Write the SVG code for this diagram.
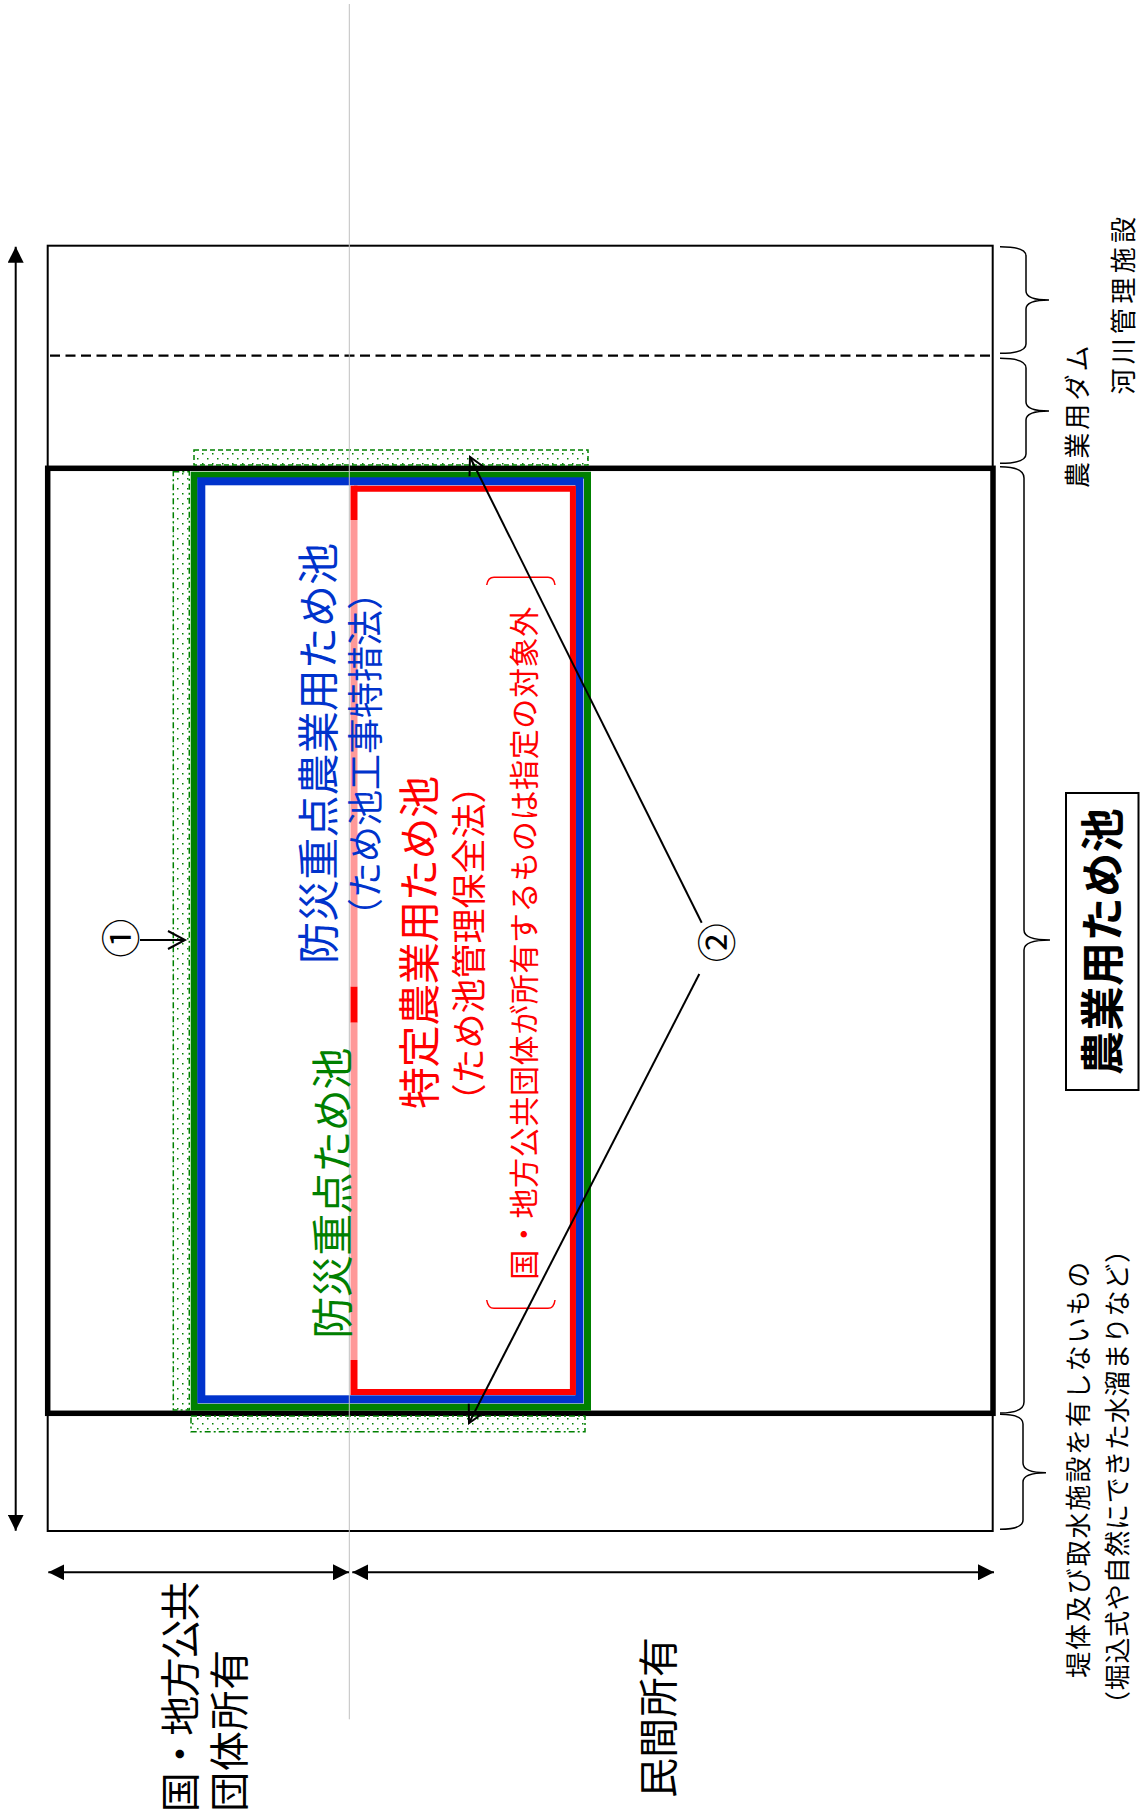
<svg xmlns="http://www.w3.org/2000/svg" width="1140" height="1817" viewBox="0 0 1140 1817">
<style>
.t{font-family:"Noto Sans CJK JP","Noto Sans CJK SC",sans-serif;}
.thin{fill:none;stroke:#000;stroke-width:2;}
.brace{fill:none;stroke:#000;stroke-width:1.5;}
.dotbox{fill:url(#dots);stroke:#008000;stroke-width:1.5;}
.arr{fill:none;stroke:#000;stroke-width:2;}
</style>
<defs>
<pattern id="dots" patternUnits="userSpaceOnUse" width="10" height="10">
<rect width="10" height="10" fill="#fff"/>
<rect x="2" y="3" width="1.5" height="1.5" fill="#008000"/>
<rect x="7" y="8" width="1.5" height="1.5" fill="#008000"/>
</pattern>
<marker id="fa" markerUnits="userSpaceOnUse" markerWidth="16" markerHeight="16" viewBox="0 0 16 16" refX="16" refY="8" orient="auto-start-reverse">
<path d="M0,0 L16,8 L0,16 z" fill="#000"/>
</marker>
<marker id="oa" markerUnits="userSpaceOnUse" markerWidth="26" markerHeight="26" viewBox="-22 -13 26 26" refX="0" refY="0" orient="auto" overflow="visible">
<path d="M-17,-9 L0,0 L-17,9" fill="none" stroke="#000" stroke-width="2"/>
</marker>
</defs>
<rect width="1140" height="1817" fill="#fff"/>

<g id="frame">
<rect class="thin" x="47.7" y="245.7" width="945" height="1285.3"/>
<line x1="50" y1="355.7" x2="992" y2="355.7" stroke="#000" stroke-width="2.2" stroke-dasharray="10 5.5"/>
<rect x="47.7" y="468.3" width="945.3" height="945" fill="none" stroke="#000" stroke-width="5.5"/>
</g>

<g id="area-1">
<rect class="dotbox" x="194" y="450" width="394" height="15" stroke-dasharray="5 3"/>
<rect class="dotbox" x="173.3" y="471.7" width="16" height="938.3" stroke-dasharray="6 3 2 3"/>
<rect class="dotbox" x="191" y="1416" width="394" height="15.7" stroke-dasharray="6 3 2 3"/>
</g>

<g id="green-pond">
<rect x="194.2" y="475.2" width="393.3" height="932" fill="none" stroke="#008000" stroke-width="7"/>
</g>
<g id="blue-pond">
<rect x="201.3" y="481.3" width="378.1" height="918" fill="none" stroke="#0033cc" stroke-width="8"/>
</g>
<g id="red-pond">
<path d="M354,488.7 H572.9 V1392 H354" fill="none" stroke="#ff0000" stroke-width="6"/>
<line x1="354" y1="485.7" x2="354" y2="520" stroke="#ff0000" stroke-width="7"/>
<line x1="354" y1="520" x2="354" y2="986.7" stroke="#ff9999" stroke-width="7"/>
<line x1="354" y1="986.7" x2="354" y2="1022.7" stroke="#ff0000" stroke-width="7"/>
<line x1="354" y1="1022.7" x2="354" y2="1360" stroke="#ff9999" stroke-width="7"/>
<line x1="354" y1="1360" x2="354" y2="1395" stroke="#ff0000" stroke-width="7"/>
</g>

<line id="divider" x1="349.3" y1="4" x2="349.3" y2="1719.3" stroke="#c0c0c0" stroke-width="1"/>

<g id="label-blue">
<text class="t" transform="translate(315,753.4) rotate(-90)" text-anchor="middle" dominant-baseline="central" font-size="42" fill="#0033cc" textLength="421" lengthAdjust="spacing">防災重点農業用ため池</text>
<text class="t" transform="translate(362.5,754) rotate(-90)" text-anchor="middle" dominant-baseline="central" font-size="36" fill="#0033cc">（ため池工事特措法）</text>
</g>
<g id="label-red">
<text class="t" transform="translate(416.7,942.5) rotate(-90)" text-anchor="middle" dominant-baseline="central" font-size="42" fill="#ff0000" textLength="333" lengthAdjust="spacing">特定農業用ため池</text>
<text class="t" transform="translate(466,943.5) rotate(-90)" text-anchor="middle" dominant-baseline="central" font-size="35" fill="#ff0000">（ため池管理保全法）</text>
<text class="t" transform="translate(521.7,943.3) rotate(-90)" text-anchor="middle" dominant-baseline="central" font-size="30" fill="#ff0000" textLength="673" lengthAdjust="spacing">国・地方公共団体が所有するものは指定の対象外</text>
<path d="M486.7,585 Q488,577.3 494,577.3 H548 Q554,577.3 555,585" fill="none" stroke="#ff0000" stroke-width="1.5"/>
<path d="M486.7,1300 Q488,1308.3 494,1308.3 H548 Q554,1308.3 555,1300" fill="none" stroke="#ff0000" stroke-width="1.5"/>
</g>
<g id="label-green">
<text class="t" transform="translate(329,1193.3) rotate(-90)" text-anchor="middle" dominant-baseline="central" font-size="42" fill="#008000" textLength="291" lengthAdjust="spacing">防災重点ため池</text>
</g>

<g id="marker-1">
<text class="t" transform="translate(118.3,938.3) rotate(-90)" text-anchor="middle" dominant-baseline="central" font-size="39" fill="#000">①</text>
</g>
<g id="marker-2">
<text class="t" transform="translate(714,942.7) rotate(-90)" text-anchor="middle" dominant-baseline="central" font-size="39" fill="#000">②</text>
</g>

<g id="right-labels">
<text class="t" transform="translate(1121,305.8) rotate(-90)" text-anchor="middle" dominant-baseline="central" font-size="26" fill="#000" textLength="177.6" lengthAdjust="spacing">河川管理施設</text>
<text class="t" transform="translate(1075.3,416.7) rotate(-90)" text-anchor="middle" dominant-baseline="central" font-size="26" fill="#000" textLength="142.6" lengthAdjust="spacing">農業用ダム</text>
<text class="t" transform="translate(1076.7,1469.8) rotate(-90)" text-anchor="middle" dominant-baseline="central" font-size="26" fill="#000" textLength="416" lengthAdjust="spacing">堤体及び取水施設を有しないもの</text>
<text class="t" transform="translate(1115,1477) rotate(-90)" text-anchor="middle" dominant-baseline="central" font-size="26" fill="#000" textLength="480" lengthAdjust="spacing">（堀込式や自然にできた水溜まりなど）</text>
</g>
<g id="main-label">
<rect x="1066" y="793" width="72.5" height="297" fill="#fff" stroke="#000" stroke-width="2"/>
<text class="t" transform="translate(1100,941.7) rotate(-90)" text-anchor="middle" dominant-baseline="central" font-size="44" font-weight="bold" fill="#000" textLength="267" lengthAdjust="spacing">農業用ため池</text>
</g>
<g id="owner-labels">
<text class="t" transform="translate(178.3,1696.7) rotate(-90)" text-anchor="middle" dominant-baseline="central" font-size="40" fill="#000" textLength="231" lengthAdjust="spacing">国・地方公共</text>
<text class="t" transform="translate(226.7,1730.8) rotate(-90)" text-anchor="middle" dominant-baseline="central" font-size="40" fill="#000" textLength="162" lengthAdjust="spacing">団体所有</text>
<text class="t" transform="translate(656,1717.5) rotate(-90)" text-anchor="middle" dominant-baseline="central" font-size="40" fill="#000" textLength="161" lengthAdjust="spacing">民間所有</text>
</g>

<g id="connectors">
<path class="brace" d="M1000,246.7 Q1026,246.7 1026,256 L1026,291 Q1026,300 1049,300 Q1026,300 1026,309 L1026,344 Q1026,353.3 1000,353.3"/>
<path class="brace" d="M1000,358.3 Q1026,358.3 1026,368 L1026,402 Q1026,411 1049,411 Q1026,411 1026,420 L1026,454 Q1026,463.3 1000,463.3"/>
<path class="brace" d="M1000,466.7 Q1024,466.7 1024,478 L1024,930 Q1024,940 1050,940 Q1024,940 1024,950 L1024,1402 Q1024,1413 1000,1413"/>
<path class="brace" d="M1000,1414.3 Q1023,1414.3 1023,1424 L1023,1463 Q1023,1472.7 1046,1472.7 Q1023,1472.7 1023,1482 L1023,1520 Q1023,1529.3 1000,1529.3"/>
<line class="arr" x1="15.7" y1="246.7" x2="15.7" y2="1530.7" marker-start="url(#fa)" marker-end="url(#fa)"/>
<line class="arr" x1="48.3" y1="1572.3" x2="349" y2="1572.3" marker-start="url(#fa)" marker-end="url(#fa)"/>
<line class="arr" x1="352.3" y1="1572.3" x2="994" y2="1572.3" marker-start="url(#fa)" marker-end="url(#fa)"/>
<line class="arr" x1="140" y1="940" x2="185" y2="940" marker-end="url(#oa)"/>
<line class="arr" x1="701.7" y1="922.7" x2="470" y2="457" marker-end="url(#oa)"/>
<line class="arr" x1="699.3" y1="974" x2="469" y2="1423" marker-end="url(#oa)"/>
</g>
</svg>
